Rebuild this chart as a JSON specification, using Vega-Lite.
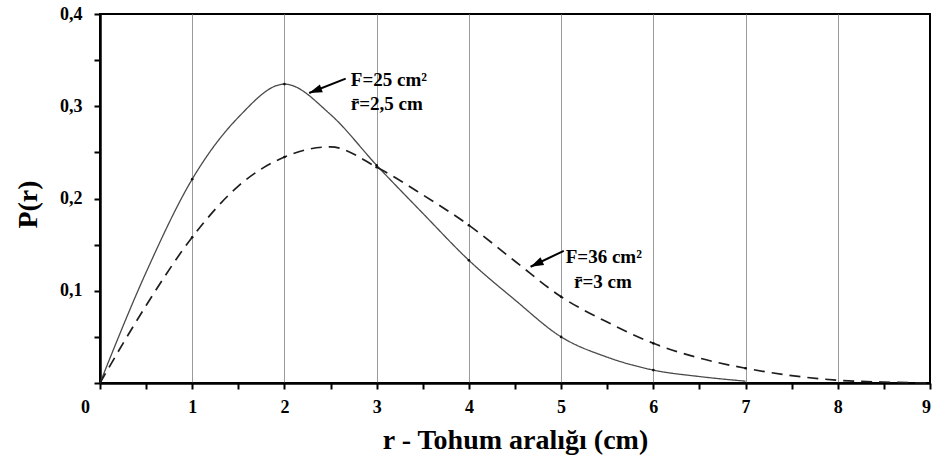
{
  "$schema": "https://vega.github.io/schema/vega-lite/v6.json",
  "width": 830,
  "height": 369,
  "autosize": {"type": "none"},
  "padding": {"left": 100, "top": 14, "right": 2, "bottom": 75},
  "background": "white",
  "config": {
    "view": {"stroke": "black", "strokeWidth": 2},
    "font": "Liberation Serif"
  },
  "datasets": {
    "curves": [
      {"r": 0, "p": 0, "series": "F=25"},
      {"r": 0.5, "p": 0.12, "series": "F=25"},
      {"r": 1, "p": 0.221, "series": "F=25"},
      {"r": 1.5, "p": 0.288, "series": "F=25"},
      {"r": 2, "p": 0.324, "series": "F=25"},
      {"r": 2.5, "p": 0.291, "series": "F=25"},
      {"r": 3, "p": 0.236, "series": "F=25"},
      {"r": 3.5, "p": 0.184, "series": "F=25"},
      {"r": 4, "p": 0.133, "series": "F=25"},
      {"r": 4.5, "p": 0.09, "series": "F=25"},
      {"r": 5, "p": 0.05, "series": "F=25"},
      {"r": 5.5, "p": 0.028, "series": "F=25"},
      {"r": 6, "p": 0.014, "series": "F=25"},
      {"r": 6.5, "p": 0.007, "series": "F=25"},
      {"r": 7, "p": 0.002, "series": "F=25"},
      {"r": 0, "p": 0, "series": "F=36"},
      {"r": 0.5, "p": 0.084, "series": "F=36"},
      {"r": 1, "p": 0.158, "series": "F=36"},
      {"r": 1.5, "p": 0.2135, "series": "F=36"},
      {"r": 2, "p": 0.245, "series": "F=36"},
      {"r": 2.5, "p": 0.256, "series": "F=36"},
      {"r": 3, "p": 0.234, "series": "F=36"},
      {"r": 3.5, "p": 0.204, "series": "F=36"},
      {"r": 4, "p": 0.171, "series": "F=36"},
      {"r": 4.5, "p": 0.132, "series": "F=36"},
      {"r": 5, "p": 0.0935, "series": "F=36"},
      {"r": 5.5, "p": 0.066, "series": "F=36"},
      {"r": 6, "p": 0.043, "series": "F=36"},
      {"r": 6.5, "p": 0.027, "series": "F=36"},
      {"r": 7, "p": 0.016, "series": "F=36"},
      {"r": 7.5, "p": 0.008, "series": "F=36"},
      {"r": 8, "p": 0.003, "series": "F=36"},
      {"r": 8.5, "p": 0.001, "series": "F=36"},
      {"r": 9, "p": 0, "series": "F=36"}
    ],
    "notes": [
      {"r": 2.72, "p": 0.322, "label": "F=25 cm²"},
      {"r": 2.72, "p": 0.296, "label": "r̄=2,5 cm"},
      {"r": 5.05, "p": 0.1297, "label": "F=36 cm²"},
      {"r": 5.14, "p": 0.1027, "label": "r̄=3 cm"}
    ],
    "arrows": [
      {"id": "a1", "r": 2.664, "p": 0.330, "r2": 2.268, "p2": 0.3144},
      {"id": "a2", "r": 5.029, "p": 0.1433, "r2": 4.669, "p2": 0.126}
    ]
  },
  "layer": [
    {
      "data": {"name": "curves"},
      "mark": {"type": "line", "interpolate": "monotone"},
      "encoding": {
        "x": {
          "field": "r",
          "type": "quantitative",
          "scale": {"domain": [0, 9], "nice": false, "zero": false},
          "axis": {
            "values": [0, 0.5, 1, 1.5, 2, 2.5, 3, 3.5, 4, 4.5, 5, 5.5, 6, 6.5, 7, 7.5, 8, 8.5, 9],
            "labelExpr": "datum.value % 1 == 0 ? format(datum.value, 'd') : ''",
            "title": "r - Tohum aralığı (cm)",
            "grid": true,
            "gridColor": "#9a9a9a",
            "gridWidth": 1,
            "gridOpacity": {"condition": {"test": "datum.value % 1 != 0 || datum.value == 0 || datum.value == 9", "value": 0}, "value": 1},
            "domainColor": "black",
            "domainWidth": 2.5,
            "tickColor": "black",
            "tickWidth": 2,
            "tickSize": 6,
            "labelFont": "Liberation Serif",
            "labelFontWeight": "bold",
            "labelFontSize": 18,
            "labelColor": "black",
            "labelPadding": 9,
            "labelOffset": {"condition": [{"test": "datum.value == 0", "value": -15}, {"test": "datum.value == 9", "value": -4}], "value": 0},
            "labelFlush": false,
            "labelOverlap": false,
            "labelBound": false,
            "titleFont": "Liberation Serif",
            "titleFontWeight": "bold",
            "titleFontSize": 28,
            "titleColor": "black",
            "titleBaseline": "alphabetic",
            "titleY": 65
          }
        },
        "y": {
          "field": "p",
          "type": "quantitative",
          "scale": {"domain": [0, 0.4], "nice": false},
          "axis": {
            "values": [0, 0.05, 0.1, 0.15, 0.2, 0.25, 0.3, 0.35, 0.4],
            "labelExpr": "(round(datum.value * 20) % 2 == 1 || datum.value == 0) ? '' : replace(format(datum.value, '.1f'), '.', ',')",
            "title": "P(r)",
            "grid": false,
            "domainColor": "black",
            "domainWidth": 2.5,
            "tickColor": "black",
            "tickWidth": 2,
            "tickSize": 6,
            "labelFont": "Liberation Serif",
            "labelFontWeight": "bold",
            "labelFontSize": 18,
            "labelColor": "black",
            "labelPadding": 12,
            "labelOverlap": false,
            "labelFlush": false,
            "titleFont": "Liberation Serif",
            "titleFontWeight": "bold",
            "titleFontSize": 28,
            "titleColor": "black",
            "titleAngle": -90,
            "titleAlign": "center",
            "titleBaseline": "middle",
            "titleX": -72,
            "titleY": 190
          }
        },
        "strokeDash": {
          "field": "series",
          "type": "nominal",
          "scale": {"domain": ["F=25", "F=36"], "range": [[1, 0], [11, 7]]},
          "legend": null
        },
        "color": {
          "field": "series",
          "type": "nominal",
          "scale": {"domain": ["F=25", "F=36"], "range": ["#4a4a4a", "#1e1e1e"]},
          "legend": null
        },
        "size": {
          "field": "series",
          "type": "nominal",
          "scale": {"domain": ["F=25", "F=36"], "range": [1.3, 1.7]},
          "legend": null
        }
      }
    },
    {
      "data": {"name": "curves"},
      "transform": [{"filter": "datum.r % 1 == 0 && datum.r > 0 && datum.p > 0.004"}],
      "mark": {"type": "circle", "size": 7, "color": "#111", "opacity": 1},
      "encoding": {
        "x": {"field": "r", "type": "quantitative"},
        "y": {"field": "p", "type": "quantitative"}
      }
    },
    {
      "data": {"name": "arrows"},
      "mark": {"type": "rule", "color": "black", "strokeWidth": 2},
      "encoding": {
        "x": {"field": "r", "type": "quantitative"},
        "y": {"field": "p", "type": "quantitative"},
        "x2": {"field": "r2"},
        "y2": {"field": "p2"}
      }
    },
    {
      "data": {"name": "arrows"},
      "transform": [{"filter": "datum.id == 'a1'"}],
      "mark": {"type": "point", "shape": "M0,0L-0.65,2L0.65,2Z", "filled": true, "color": "black", "opacity": 1, "size": 169, "angle": 249.5},
      "encoding": {
        "x": {"field": "r2", "type": "quantitative"},
        "y": {"field": "p2", "type": "quantitative"}
      }
    },
    {
      "data": {"name": "arrows"},
      "transform": [{"filter": "datum.id == 'a2'"}],
      "mark": {"type": "point", "shape": "M0,0L-0.65,2L0.65,2Z", "filled": true, "color": "black", "opacity": 1, "size": 169, "angle": 244.3},
      "encoding": {
        "x": {"field": "r2", "type": "quantitative"},
        "y": {"field": "p2", "type": "quantitative"}
      }
    },
    {
      "data": {"name": "notes"},
      "mark": {"type": "text", "align": "left", "baseline": "alphabetic", "font": "Liberation Serif", "fontWeight": "bold", "fontSize": 19, "color": "black"},
      "encoding": {
        "x": {"field": "r", "type": "quantitative"},
        "y": {"field": "p", "type": "quantitative"},
        "text": {"field": "label"}
      }
    }
  ]
}
